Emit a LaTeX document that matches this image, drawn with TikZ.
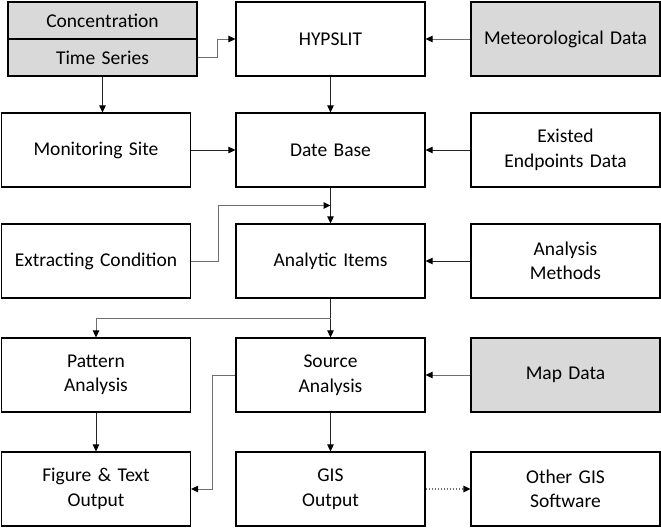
\documentclass[tikz,border=0pt]{standalone}
\usepackage{fontspec}
\setmainfont{Carlito}
\usetikzlibrary{arrows.meta,calc}
\definecolor{boxgray}{HTML}{D9D9D9}
\definecolor{linegray}{HTML}{6E6E6E}
\newcommand\myboxfont{\fontsize{19.5}{24.5}\selectfont\spaceskip=0.33em\relax}
\tikzset{
  box/.style={draw=black, line width=1.2pt, minimum width=189pt, minimum height=74pt,
    inner sep=0pt, align=center, font=\myboxfont},
  shaded/.style={box, fill=boxgray},
  half/.style={shaded, minimum height=37pt},
  conn/.style={draw=linegray, line width=1pt, -{Triangle[length=7pt,width=6.5pt,color=black]}},
  dark/.style={conn, draw=black!85}
}
\begin{document}
\begin{tikzpicture}[x=1pt,y=-1pt]
\useasboundingbox (0,0) rectangle (661,528);
% row 1
\node[half] (conc) at (102.5,20.5) {Concentration};
\node[half] (ts) at (102.5,57.5) {Time Series};
\node[box] (hyp) at (330.5,39) {HYPSLIT};
\node[shaded] (met) at (565.5,39) {Meteorological Data};
% row 2
\node[box] (mon) at (96,150) {Monitoring Site};
\node[box] (db) at (330.5,150) {Date Base};
\node[box] (ex) at (565.5,150) {Existed\\Endpoints Data};
% row 3
\node[box] (ext) at (96,261) {Extracting Condition};
\node[box] (ai) at (330.5,261) {Analytic Items};
\node[box] (am) at (565.5,261) {Analysis\\Methods};
% row 4
\node[box] (pa) at (96,375) {Pattern\\Analysis};
\node[box] (sa) at (330.5,375) {Source\\Analysis};
\node[shaded] (md) at (565.5,375) {Map Data};
% row 5
\node[box] (fo) at (96,489) {Figure \& Text\\Output};
\node[box] (gis) at (330.5,489) {GIS\\Output};
\node[box] (ogs) at (565.5,489) {Other GIS\\Software};
% connectors
\draw[conn] (ts.east) -- ++(20,0) |- (hyp.west);
\draw[dark] (ts.south) -- (ts.south |- mon.north);
\draw[dark] (hyp.south) -- (db.north);
\draw[conn] (met.west) -- (hyp.east);
\draw[dark] (mon.east) -- (db.west);
\draw[dark] (ex.west) -- (db.east);
\draw[dark] (db.south) -- (ai.north);
\coordinate (j1) at ($(db.south)!0.5!(ai.north)$);
\draw[conn] (ext.east) -- ++(27,0) |- (j1);
\draw[dark] (am.west) -- (ai.east);
\draw[dark] (ai.south) -- (sa.north);
\coordinate (j2) at ($(ai.south)!0.5!(sa.north)$);
\draw[conn] (j2) -| (pa.north);
\draw[conn] (md.west) -- (sa.east);
\draw[conn] (sa.west) -- ++(-23,0) |- (fo.east);
\draw[dark] (pa.south) -- (fo.north);
\draw[dark] (sa.south) -- (gis.north);
\draw[conn, dotted, line width=1.2pt] (gis.east) -- (ogs.west);
\end{tikzpicture}
\end{document}
